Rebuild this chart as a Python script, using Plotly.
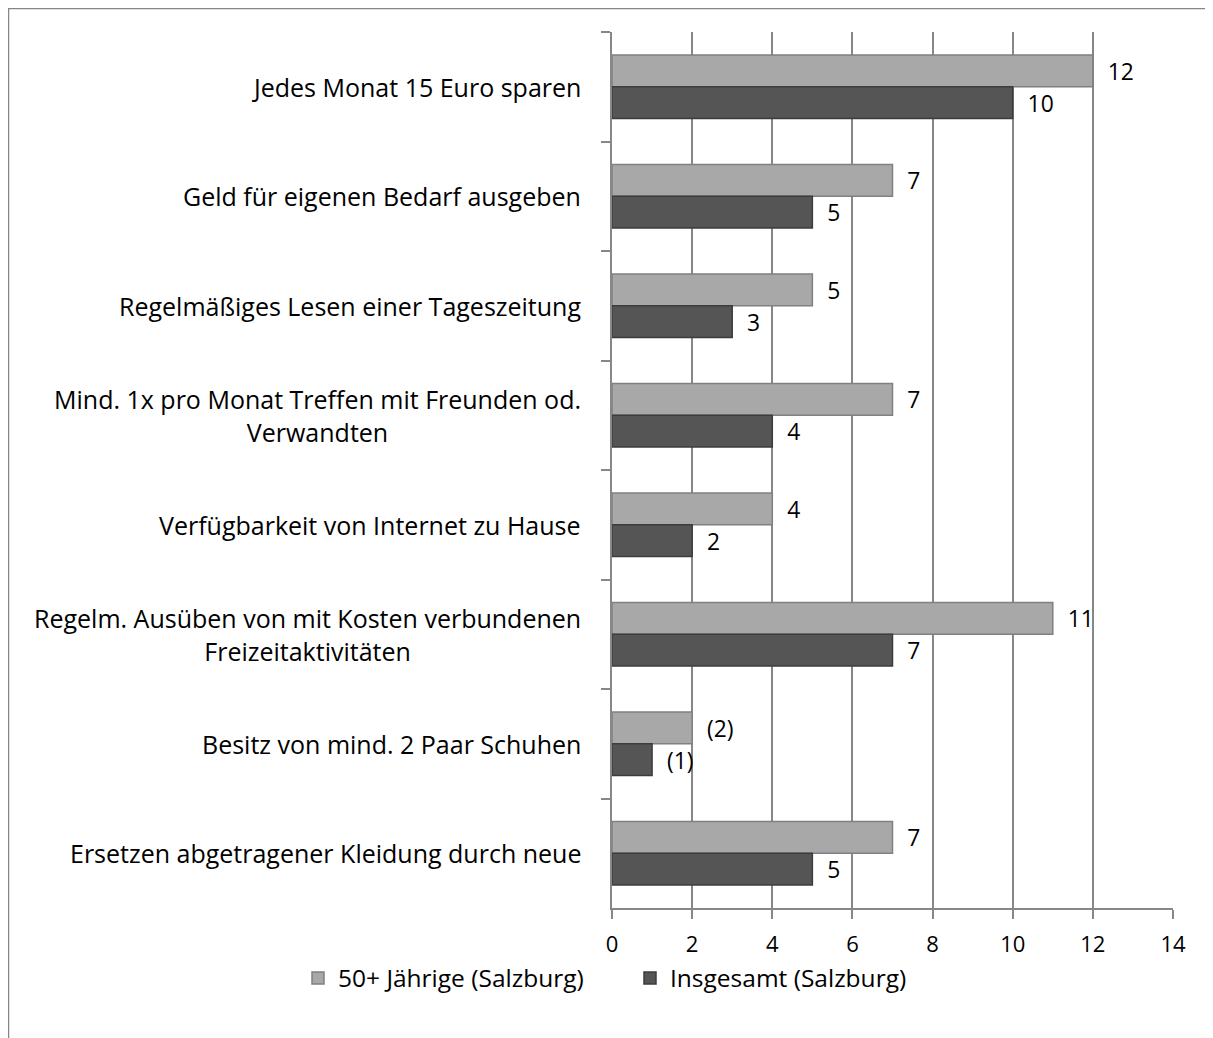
import plotly.graph_objects as go

categories = [
    "Jedes Monat 15 Euro sparen",
    "Geld für eigenen Bedarf ausgeben",
    "Regelmäßiges Lesen einer Tageszeitung",
    "Mind. 1x pro Monat Treffen mit Freunden od.<br>Verwandten",
    "Verfügbarkeit von Internet zu Hause",
    "Regelm. Ausüben von mit Kosten verbundenen<br>Freizeitaktivitäten",
    "Besitz von mind. 2 Paar Schuhen",
    "Ersetzen abgetragener Kleidung durch neue",
]
series_names = ["50+ Jährige (Salzburg)", "Insgesamt (Salzburg)"]
values_50plus = [12, 7, 5, 7, 4, 11, 2, 7]
values_total = [10, 5, 3, 4, 2, 7, 1, 5]
labels_50plus = ["12", "7", "5", "7", "4", "11", "(2)", "7"]
labels_total = ["10", "5", "3", "4", "2", "7", "(1)", "5"]
x_ticks = [0, 2, 4, 6, 8, 10, 12, 14]

FONT = "Open Sans"
W, H = 1205, 1030          # page body adds an 8px margin
ML, MT = 604, 24
PW, PH = 561, 876
MR, MB = W - ML - PW, H - MT - PH
GRID = "#878787"
pad = "\u00a0\u00a0"

fig = go.Figure()
fig.add_trace(go.Bar(
    y=categories, x=values_50plus, orientation="h", name=series_names[0],
    marker=dict(color="#a8a8a8", line=dict(color="#808080", width=1.5)),
    text=[pad + t for t in labels_50plus], textposition="outside",
    textfont=dict(family=FONT, size=23, color="#000000"), cliponaxis=False,
    legend="legend",
))
fig.add_trace(go.Bar(
    y=categories, x=values_total, orientation="h", name=series_names[1],
    marker=dict(color="#555555", line=dict(color="#3c3c3c", width=1.5)),
    text=[pad + t for t in labels_total], textposition="outside",
    textfont=dict(family=FONT, size=23, color="#000000"), cliponaxis=False,
    legend="legend2",
))

# category labels as centered multi-line annotations
for c in categories:
    fig.add_annotation(
        xref="paper", yref="y", x=(575 - ML) / PW, y=c,
        text=c, showarrow=False, xanchor="right", yanchor="middle",
        align="center", font=dict(family=FONT, size=25, color="#000000"),
    )

# outer chart frame
fig.add_shape(
    type="rect", xref="paper", yref="paper",
    x0=(0 - ML) / PW, x1=(W + 20 - ML) / PW,
    y0=-(H + 20 - (MT + PH)) / PH, y1=1 + MT / PH,
    line=dict(color="#868686", width=2.5), layer="below",
)

legend_common = dict(
    orientation="h", xref="container", yref="container",
    xanchor="left", yanchor="middle", y=1 - 970 / H,
    font=dict(family=FONT, size=24.5), itemwidth=30, bgcolor="rgba(0,0,0,0)",
)

fig.update_layout(
    width=W, height=H,
    margin=dict(l=ML, r=MR, t=MT, b=MB, autoexpand=False),
    paper_bgcolor="white", plot_bgcolor="white",
    barmode="group", bargap=0.42, bargroupgap=0,
    font=dict(family=FONT, size=23, color="#000000"),
    showlegend=True,
    legend=dict(x=290 / W, **legend_common),
    legend2=dict(x=622 / W, **legend_common),
    xaxis=dict(
        range=[0, 14], tickvals=x_ticks, showgrid=True, gridcolor=GRID, gridwidth=1.5,
        zeroline=False, showline=True, linecolor=GRID, linewidth=1.5,
        ticks="outside", ticklen=9, tickcolor=GRID, tickwidth=1.5,
        tickfont=dict(family=FONT, size=22), ticklabelstandoff=7, fixedrange=True,
    ),
    yaxis=dict(
        autorange="reversed", showticklabels=False, showgrid=False,
        showline=True, linecolor=GRID, linewidth=1.5,
        ticks="outside", tickson="boundaries", ticklen=9, tickcolor=GRID, tickwidth=1.5,
        fixedrange=True,
    ),
)

fig.write_html("out.html")
